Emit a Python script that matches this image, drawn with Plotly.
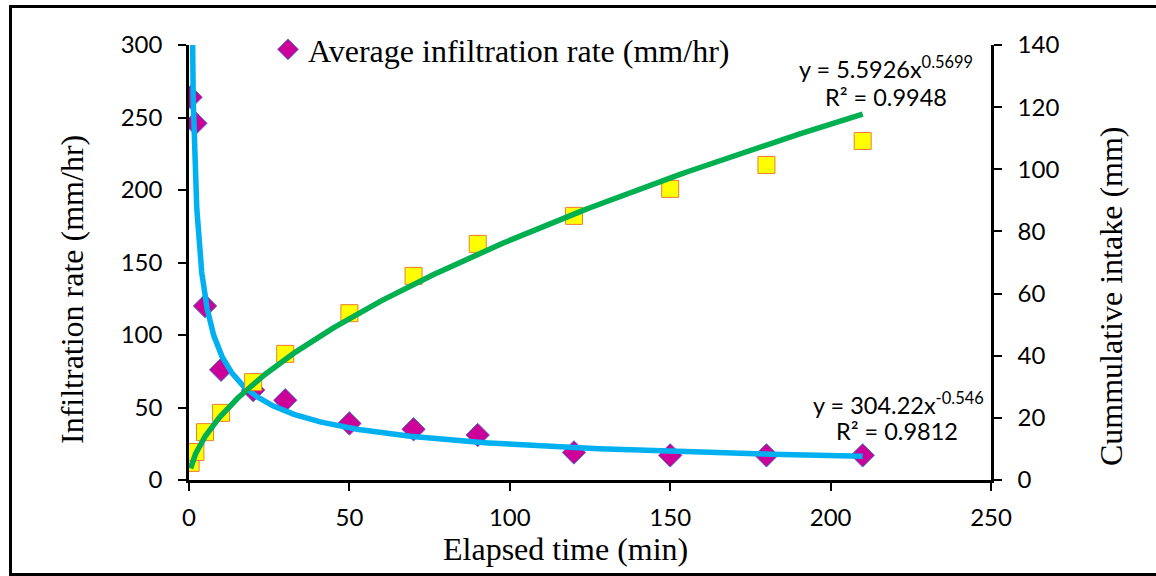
import numpy as np
import plotly.graph_objects as go

# ---- data ----
elapsed_time = [0.5, 2, 5, 10, 20, 30, 50, 70, 90, 120, 150, 180, 210]
infiltration_rate = [264, 246, 120, 76, 62, 55, 39, 35, 31, 19, 17, 17, 17]
cumulative_intake = [5.5, 9.0, 15.4, 21.6, 31.5, 40.6, 53.7, 65.7, 76.0, 85.0, 93.7, 101.4, 109.1]

# power trendline coefficients shown on the chart
rate_a, rate_b = 304.22, -0.546
intake_a, intake_b = 5.5926, 0.5699

x_ticks = [0, 50, 100, 150, 200, 250]
left_ticks = [0, 50, 100, 150, 200, 250, 300]
right_ticks = [0, 20, 40, 60, 80, 100, 120, 140]

# ---- layout geometry (screen pixels) ----
W, H = 1156, 576
ML, MR, MT, MB = 189, 1156 - 991, 45, 576 - 480
PW, PH = W - ML - MR, H - MT - MB

def px_x(p):
    return (p - ML) / PW

def px_y(p):
    return (H - MB - p) / PH

serif = "Liberation Serif, Times New Roman, serif"
sans = "Lato, Carlito, Calibri, sans-serif"

xfit = np.geomspace(min(elapsed_time), max(elapsed_time), 500)
rate_fit = rate_a * xfit ** rate_b
intake_fit = intake_a * xfit ** intake_b

fig = go.Figure()
fig.add_trace(go.Scatter(
    x=elapsed_time, y=infiltration_rate, mode="markers",
    name="Average infiltration rate (mm/hr)",
    marker=dict(symbol="diamond", size=18, color="#CC0099",
                line=dict(color="#4472C4", width=1)),
    yaxis="y", showlegend=True))
fig.add_trace(go.Scatter(
    x=elapsed_time, y=cumulative_intake, mode="markers",
    name="Cumulative intake (mm)",
    marker=dict(symbol="square", size=17, color="#FFFF00",
                line=dict(color="#ED7D31", width=1)),
    yaxis="y2", showlegend=False))
fig.add_trace(go.Scatter(
    x=xfit, y=rate_fit, mode="lines", line=dict(color="#00B0F0", width=5.5),
    yaxis="y", showlegend=False, hoverinfo="skip"))
fig.add_trace(go.Scatter(
    x=xfit, y=intake_fit, mode="lines", line=dict(color="#00B050", width=5.5),
    yaxis="y2", showlegend=False, hoverinfo="skip"))

axis_common = dict(showgrid=False, zeroline=False, showline=True, linecolor="black",
                   linewidth=2.5, ticks="outside", ticklen=8, tickwidth=2,
                   tickcolor="black", tickfont=dict(family=sans, size=24, color="black"))

fig.update_layout(
    width=W, height=H,
    margin=dict(l=ML, r=MR, t=MT, b=MB, autoexpand=False),
    paper_bgcolor="white", plot_bgcolor="white",
    xaxis=dict(range=[0, 250], tickvals=x_ticks, ticklabelstandoff=6, **axis_common),
    yaxis=dict(range=[0, 300], tickvals=left_ticks, ticklabelstandoff=11, **axis_common),
    yaxis2=dict(range=[0, 140], tickvals=right_ticks, overlaying="y", side="right",
                ticklabelstandoff=11, **axis_common),
    legend=dict(x=px_x(268), y=px_y(22), xanchor="left", yanchor="top",
                bgcolor="rgba(0,0,0,0)", font=dict(family=serif, size=32, color="black")),
    showlegend=True,
)

# axis titles placed as in the reference
title_font = dict(family=serif, size=32, color="black")
fig.add_annotation(xref="paper", yref="paper", x=px_x(565), y=px_y(549),
                   text="Elapsed time (min)", showarrow=False,
                   xanchor="center", yanchor="middle", font=title_font)
fig.add_annotation(xref="paper", yref="paper", x=px_x(72), y=px_y(290), textangle=-90,
                   text="Infiltration rate (mm/hr)", showarrow=False,
                   xanchor="center", yanchor="middle", font=title_font)
fig.add_annotation(xref="paper", yref="paper", x=px_x(1111), y=px_y(297), textangle=-90,
                   text="Cummulative intake (mm)", showarrow=False,
                   xanchor="center", yanchor="middle", font=title_font)

# trendline equations
eq_font = dict(family=sans, size=23.5, color="black")
fig.add_annotation(xref="paper", yref="paper", x=px_x(886), y=px_y(67),
                   text="y = 5.5926x<sup>0.5699</sup>", showarrow=False,
                   xanchor="center", yanchor="middle", font=eq_font)
fig.add_annotation(xref="paper", yref="paper", x=px_x(886), y=px_y(97),
                   text="R² = 0.9948", showarrow=False,
                   xanchor="center", yanchor="middle", font=eq_font)
fig.add_annotation(xref="paper", yref="paper", x=px_x(898), y=px_y(403),
                   text="y = 304.22x<sup>-0.546</sup>", showarrow=False,
                   xanchor="center", yanchor="middle", font=eq_font)
fig.add_annotation(xref="paper", yref="paper", x=px_x(897), y=px_y(431),
                   text="R² = 0.9812", showarrow=False,
                   xanchor="center", yanchor="middle", font=eq_font)

# outer frame
fig.add_shape(type="path", xref="paper", yref="paper",
              path=f"M {px_x(1165)} {px_y(6.5)} L {px_x(10.5)} {px_y(6.5)} L {px_x(10.5)} {px_y(574.5)} L {px_x(1165)} {px_y(574.5)}",
              line=dict(color="black", width=3))

fig.write_html("out.html", config={"displayModeBar": False},
               post_script="document.body.style.margin='0';document.body.style.overflow='hidden';")
